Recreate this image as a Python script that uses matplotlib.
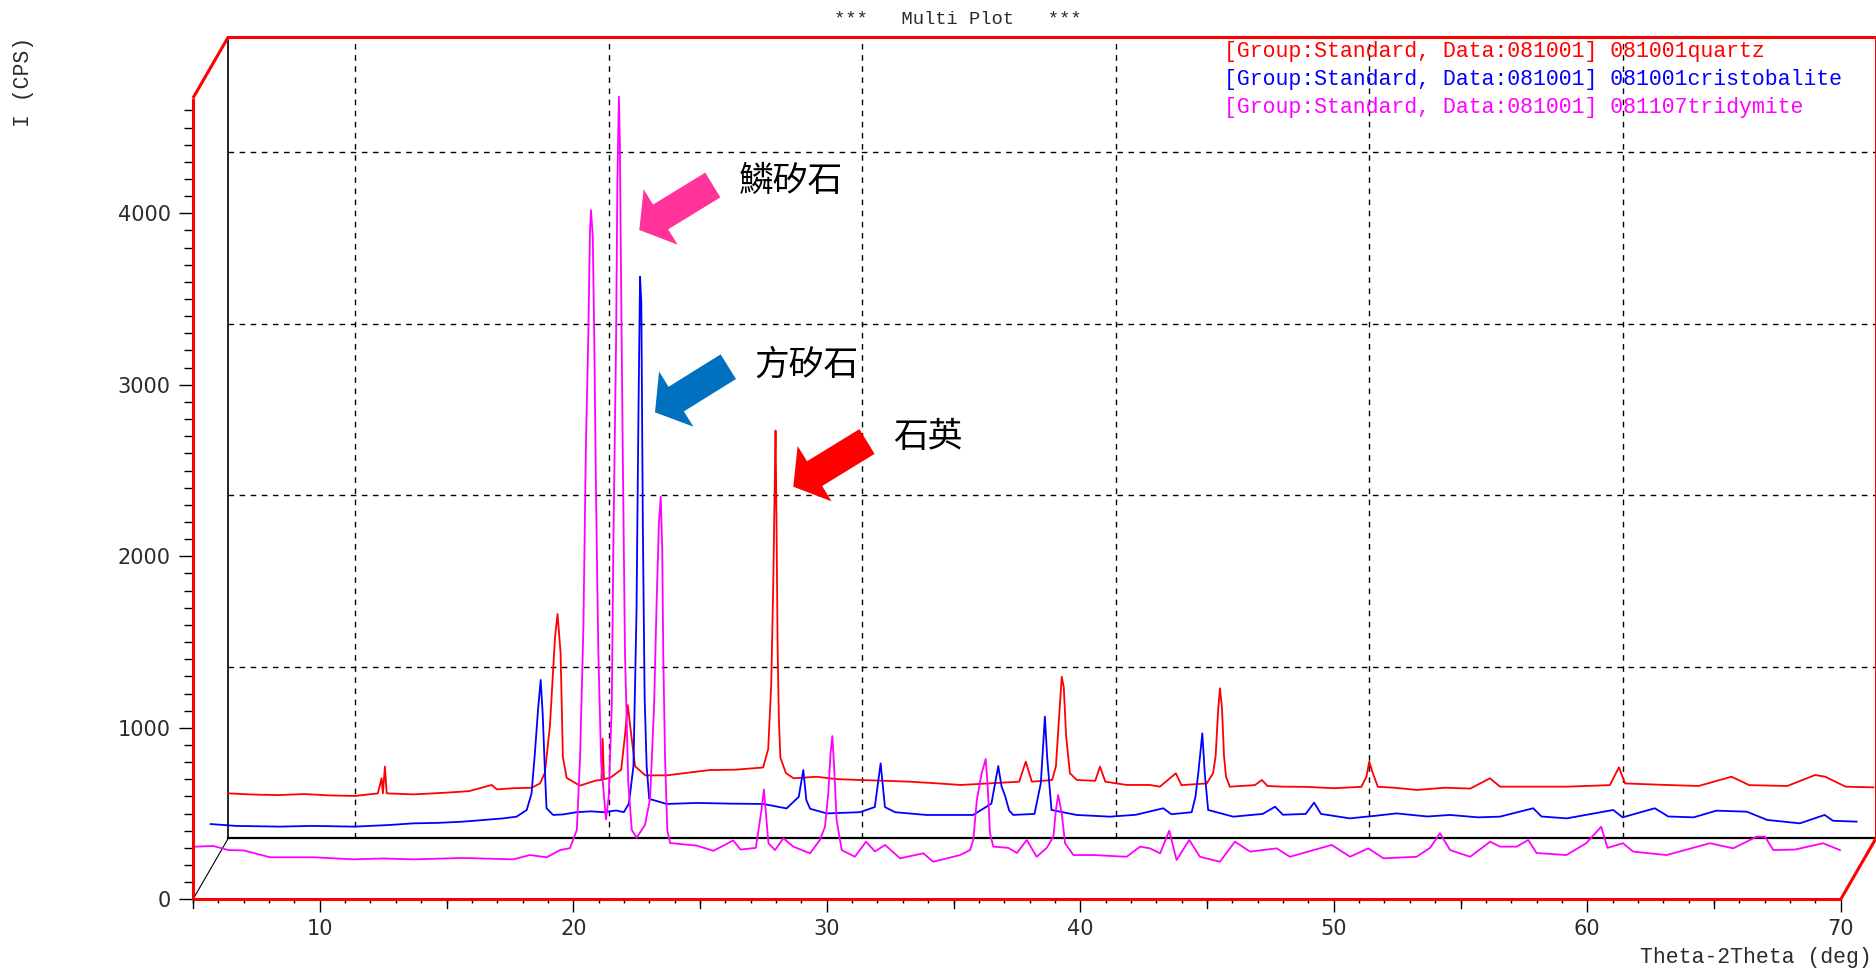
import numpy as np
import matplotlib.pyplot as plt
from matplotlib.patches import FancyArrow
from matplotlib.ticker import FixedLocator
from matplotlib.transforms import IdentityTransform

plt.rcParams['font.family'] = ['Liberation Mono', 'DejaVu Sans Mono']

# ---- data: 2theta (deg) / intensity (cps) ----
quartz_2theta = [5.0, 6.0, 7.0, 8.0, 9.0, 10.0, 10.9, 11.05, 11.1, 11.18, 11.25, 12.3, 13.6, 14.5,
                 15.39, 15.6, 16.24, 16.97, 17.3, 17.49, 17.69, 17.89, 17.99, 18.11, 18.2, 18.35,
                 18.87, 19.5, 19.72, 19.77, 19.82, 20.06, 20.5, 20.65, 20.76, 20.9, 21.05, 21.45,
                 22.3, 23.0, 24.0, 25.0, 26.1, 26.3, 26.42, 26.5, 26.56, 26.59, 26.63, 26.67, 26.72,
                 26.78, 27.0, 27.3, 28.2, 29.0, 29.92, 31.0, 31.9, 33.0, 33.9, 35.0, 36.2, 36.46,
                 36.7, 37.5, 37.65, 37.75, 37.88, 37.96, 38.05, 38.2, 38.47, 39.2, 39.39, 39.6,
                 40.44, 41.36, 41.75, 42.38, 42.6, 43.6, 43.85, 43.95, 44.05, 44.12, 44.2, 44.28,
                 44.36, 44.51, 45.5, 45.77, 46.0, 46.6, 47.5, 48.6, 49.7, 49.9, 50.01, 50.15, 50.35,
                 51.0, 51.88, 53.0, 54.0, 54.77, 55.17, 56.35, 57.8, 59.5, 59.86, 60.1, 61.74, 63.0,
                 64.3, 65.0, 66.5, 67.6, 68.0, 68.8, 69.9]
quartz_cps = [262, 255, 252, 258, 250, 247, 262, 350, 262, 418, 262, 256, 266, 275,
              311, 285, 292, 295, 320, 382, 656, 1172, 1308, 1081, 474, 352,
              307, 337, 340, 580, 345, 352, 400, 600, 777, 600, 420, 367,
              367, 380, 398, 400, 413, 520, 900, 1487, 2100, 2377, 1800, 1127, 700,
              470, 380, 350, 359, 345, 340, 335, 330, 320, 311, 320, 330, 447,
              330, 340, 420, 650, 942, 880, 600, 380, 340, 335, 418, 330,
              311, 311, 301, 379, 310, 320, 380, 480, 750, 875, 760, 480,
              359, 301, 310, 340, 305, 301, 300, 292, 300, 360, 447, 380, 300,
              295, 282, 295, 290, 350, 301, 301, 301, 310, 414, 320, 311, 305,
              359, 310, 305, 369, 359, 301, 297]

cristobalite_2theta = [5.0, 6.0, 7.73, 9.0, 10.69, 12.0, 13.0, 14.0, 14.96, 15.8, 16.54, 17.07,
                       17.47, 17.66, 17.79, 17.92, 18.02, 18.1, 18.19, 18.25, 18.51, 18.9, 19.44,
                       20.0, 20.5, 21.0, 21.3, 21.5, 21.68, 21.8, 21.88, 21.94, 21.99, 22.05,
                       22.12, 22.2, 22.3, 22.99, 24.17, 25.5, 26.8, 27.72, 28.2, 28.38, 28.5,
                       28.65, 29.3, 30.61, 31.2, 31.43, 31.6, 32.0, 33.24, 35.08, 35.8, 36.07,
                       36.2, 36.33, 36.5, 36.66, 37.5, 37.75, 37.91, 38.0, 38.17, 39.16, 40.48,
                       41.5, 42.58, 42.9, 43.7, 43.85, 43.96, 44.12, 44.22, 44.35, 45.34, 46.5,
                       46.99, 47.3, 48.2, 48.53, 48.8, 49.94, 51.0, 51.78, 53.0, 53.89, 55.0,
                       55.86, 57.17, 57.5, 58.49, 60.33, 60.7, 61.97, 62.5, 63.5, 64.4, 65.6,
                       66.4, 67.69, 68.67, 69.0, 69.93]
cristobalite_cps = [261, 250, 246, 250, 246, 255, 265, 268, 275, 285, 294, 304,
                    343, 440, 673, 936, 1101, 900, 557, 353, 314, 317, 330,
                    335, 330, 340, 330, 380, 600, 1500, 2700, 3452, 3300, 2000,
                    1000, 600, 408, 378, 384, 380, 378, 352, 420, 576, 400,
                    350, 323, 330, 360, 615, 360, 330, 314, 314, 380, 599,
                    480, 430, 340, 314, 320, 500, 887, 650, 343, 314, 304,
                    315, 353, 318, 330, 420, 557, 790, 550, 343, 304, 320,
                    362, 315, 320, 386, 320, 294, 310, 323, 305, 314, 300,
                    304, 353, 305, 294, 343, 300, 353, 305, 300, 339, 333,
                    285, 265, 314, 280, 275]

tridymite_2theta = [5.08, 5.8, 6.39, 7.0, 8.04, 9.75, 11.32, 12.5, 13.69, 15.66, 17.64, 18.29,
                    18.95, 19.48, 19.87, 20.14, 20.27, 20.4, 20.5, 20.59, 20.66, 20.7, 20.77,
                    20.83, 20.9, 20.99, 21.1, 21.29, 21.4, 21.52, 21.58, 21.69, 21.74, 21.8,
                    21.84, 21.87, 21.95, 22.04, 22.17, 22.31, 22.5, 22.83, 23.03, 23.19, 23.29,
                    23.38, 23.45, 23.51, 23.55, 23.62, 23.71, 23.82, 24.87, 25.53, 26.31, 26.6,
                    27.2, 27.43, 27.52, 27.7, 27.96, 28.29, 28.68, 29.34, 29.73, 29.93, 30.06,
                    30.15, 30.22, 30.29, 30.39, 30.59, 31.11, 31.55, 31.9, 32.3, 32.89, 33.81,
                    34.2, 35.26, 35.65, 35.78, 35.92, 36.11, 36.27, 36.35, 36.44, 36.57, 37.16,
                    37.5, 37.89, 38.28, 38.68, 38.94, 39.04, 39.13, 39.27, 39.4, 39.73, 40.52,
                    41.83, 42.36, 42.75, 43.15, 43.51, 43.8, 44.3, 44.72, 45.51, 46.1, 46.7,
                    47.75, 48.27, 49.92, 50.64, 51.36, 51.96, 53.27, 53.8, 54.19, 54.59, 55.38,
                    56.17, 56.56, 57.22, 57.67, 58.0, 59.18, 59.96, 60.55, 60.8, 61.41, 61.81,
                    63.13, 64.84, 65.76, 66.68, 67.01, 67.34, 68.2, 69.3, 69.97]
tridymite_cps = [307, 311, 287, 285, 245, 245, 233, 238, 233, 241, 233, 258,
                 245, 287, 298, 404, 830, 1588, 2651, 3259, 3897, 4018, 3866,
                 3259, 2347, 1437, 800, 465, 600, 1133, 2044, 3259, 4170, 4680,
                 4400, 3866, 2651, 1437, 678, 404, 359, 434, 586, 1133, 1741,
                 2196, 2347, 2044, 1437, 830, 404, 328, 313, 283, 343, 290,
                 300, 525, 640, 327, 287, 356, 307, 268, 346, 423, 618,
                 851, 952, 773, 462, 287, 248, 336, 279, 317, 239, 268,
                 219, 258, 287, 346, 579, 735, 818, 657, 385, 307, 300,
                 270, 346, 248, 300, 365, 521, 608, 501, 327, 258, 258,
                 248, 307, 297, 268, 400, 229, 346, 248, 219, 336, 278,
                 297, 248, 317, 248, 297, 239, 248, 300, 385, 287, 248,
                 336, 307, 307, 346, 270, 258, 327, 423, 300, 327, 278,
                 258, 327, 297, 365, 365, 287, 290, 327, 287]

legend_texts = ['[Group:Standard, Data:081001] 081001quartz',
                '[Group:Standard, Data:081001] 081001cristobalite',
                '[Group:Standard, Data:081001] 081107tridymite']
mineral_names = ['鱗矽石', '方矽石', '石英']
y_major = [0, 1000, 2000, 3000, 4000]
x_major = [10, 20, 30, 40, 50, 60, 70]

RED, BLUE, MAGENTA = '#ff0000', '#0000ff', '#ff00ff'

# ---- pixel geometry of the pseudo-3D box ----
W, H = 1876, 969
X0_PX, PX_PER_DEG = 193.0, 25.35       # 5 deg on the front plane
Y0_PX, PX_PER_CPS = 899.3, 0.1715      # 0 cps on the front plane
SHIFT_X_PX, SHIFT_Y_PX = 35.25, 61.0   # back plane offset
DX = SHIFT_X_PX / PX_PER_DEG
DY = SHIFT_Y_PX / PX_PER_CPS
X_MIN, X_MAX = 5, 70
Y_TOP = 4672

fig = plt.figure(figsize=(W / 100, H / 100), dpi=100)
fig.patch.set_facecolor('white')
ax = fig.add_axes([X0_PX / W, (H - Y0_PX) / H, (W - X0_PX) / W, Y0_PX / H])
ax.set_xlim(X_MIN, X_MIN + (W - X0_PX) / PX_PER_DEG)
ax.set_ylim(0, Y0_PX / PX_PER_CPS)
ax.patch.set_visible(False)
for s in ax.spines.values():
    s.set_visible(False)

# back plane grid
gkw = dict(color='black', lw=1.0, ls=(0, (4, 4)), zorder=1)
for gx in x_major[:-1]:
    ax.plot([gx + DX, gx + DX], [DY, Y_TOP + DY], **gkw)
for gy in y_major[1:]:
    ax.plot([X_MIN + DX, X_MAX + DX], [gy + DY, gy + DY], **gkw)

# box edges
bk = dict(color='black', lw=1.2, zorder=2, clip_on=False)
ax.plot([X_MIN + DX, X_MIN + DX], [DY, Y_TOP + DY], **bk)
ax.plot([X_MIN + DX, X_MAX + DX], [DY, DY], lw=1.6, color='black', zorder=2, clip_on=False)
ax.plot([X_MIN, X_MIN + DX], [0, DY], color='black', lw=0.8, zorder=2, clip_on=False)
rk = dict(color=RED, lw=2.2, zorder=5, clip_on=False, solid_capstyle='butt')
ax.plot([X_MIN, X_MIN], [0, Y_TOP], **rk)
ax.plot([X_MIN, X_MAX], [0, 0], **rk)
ax.plot([X_MIN, X_MIN + DX], [Y_TOP, Y_TOP + DY], **rk)
ax.plot([X_MIN + DX, X_MAX + DX], [Y_TOP + DY, Y_TOP + DY], **rk)
ax.plot([X_MAX + DX, X_MAX + DX], [Y_TOP + DY, DY], **rk)
ax.plot([X_MAX, X_MAX + DX], [0, DY], **rk)

# patterns: quartz at the back, cristobalite in the middle, tridymite in front
ax.plot(np.array(quartz_2theta) + DX, np.array(quartz_cps) + DY, color=RED, lw=1.3, zorder=3, clip_on=False)
ax.plot(np.array(cristobalite_2theta) + DX / 2, np.array(cristobalite_cps) + DY / 2, color=BLUE, lw=1.3, zorder=3, clip_on=False)
ax.plot(tridymite_2theta, tridymite_cps, color=MAGENTA, lw=1.3, zorder=4, clip_on=False)

# ticks on the front axes
ax.yaxis.set_major_locator(FixedLocator(y_major))
ax.yaxis.set_minor_locator(FixedLocator(np.arange(0, 4700, 100)))
ax.xaxis.set_major_locator(FixedLocator(x_major))
ax.xaxis.set_minor_locator(FixedLocator(np.arange(5, 71, 1)))
ax.tick_params(axis='both', which='both', direction='out', color='black', width=1.0,
               labelsize=15, labelcolor='#2b2b2b')
ax.tick_params(axis='y', which='major', length=10, pad=6)
ax.tick_params(axis='y', which='minor', length=6.5)
ax.tick_params(axis='x', which='major', length=9.5, pad=5)
ax.tick_params(axis='x', which='minor', length=3)
xtr = ax.get_xaxis_transform()
for t in range(5, 71, 5):
    if t % 10:
        ax.plot([t, t], [0, -9 / Y0_PX], color='black', lw=1.0, transform=xtr, clip_on=False)
ax.set_yticklabels([str(v) for v in y_major], family='DejaVu Sans')
ax.set_xticklabels([str(v) for v in x_major], family='DejaVu Sans')

# labels
mono = dict(fontsize=15.5, color='#2b2b2b')
fig.text(24 / W, 1 - 82 / H, 'I (CPS)', rotation=90, ha='center', va='center', **mono)
fig.text(1872 / W, 1 - 957 / H, 'Theta-2Theta (deg)', ha='right', va='center', **mono)
fig.text(958 / W, 1 - 19 / H, '***   Multi Plot   ***', ha='center', va='center', fontsize=13.5, color='#2b2b2b')
for i, (txt, col) in enumerate(zip(legend_texts, [RED, BLUE, MAGENTA])):
    fig.text(1224 / W, 1 - (52 + 28 * i) / H, txt, ha='left', va='center', fontsize=15.5, color=col)

# mineral arrows (pixel coordinates: tail centre -> tip)
arrows = [((712.8, 185.0), (639.3, 230.0), '#ff3399'),
          ((728.3, 366.7), (655.0, 412.3), '#0070c0'),
          ((867.0, 441.5), (793.3, 486.7), '#ff0000')]
for (tx, ty), (hx, hy), col in arrows:
    fig.add_artist(FancyArrow(tx, H - ty, hx - tx, -(hy - ty), width=29, head_width=65,
                              head_length=25, length_includes_head=True, color=col,
                              lw=0, transform=IdentityTransform(), zorder=6))
name_pos = [(791, 182), (807, 365), (928, 438)]
for name, (px, py) in zip(mineral_names, name_pos):
    fig.text(px / W, 1 - py / H, name, ha='center', va='center', fontsize=25,
             family=['Noto Sans CJK TC', 'DejaVu Sans'], color='black')

fig.savefig('out.png', dpi=100, facecolor='white')
